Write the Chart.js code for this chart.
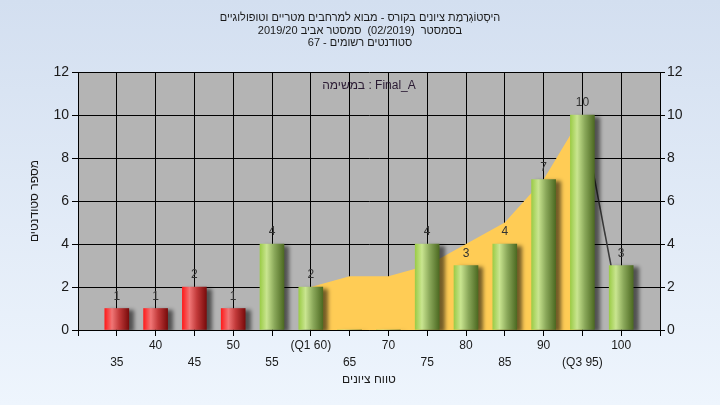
<!DOCTYPE html>
<html>
<head>
<meta charset="utf-8">
<script src="https://cdn.jsdelivr.net/npm/chart.js@4.4.1/dist/chart.umd.min.js"></script>
<style>
html, body { margin: 0; padding: 0; }
body { width: 720px; height: 405px; overflow: hidden; background: linear-gradient(#d3dff0, #eef5fd); }
</style>
</head>
<body>
<canvas id="histChart" dir="rtl" width="720" height="405"></canvas>
<script>
// נתוני ההיסטוגרמה
const grades = [35, 40, 45, 50, 55, 60, 65, 70, 75, 80, 85, 90, 95, 100];
const gradeLabels = ['35', '40', '45', '50', '55', '(Q1 60)', '65', '70', '75', '80', '85', '90', '(Q3 95)', '100'];
const students = [1, 1, 2, 1, 4, 2, 0, 0, 4, 3, 4, 7, 10, 3];
const areaValues = [null, null, null, null, null, 2, 2.5, 2.5, 3, 4, 5, 7, 10, null];
const dropValues = [null, null, null, null, null, null, null, null, null, null, null, null, 10, 0.5];
const passGrade = 55;

const titleLines = [
    'היסְטוֹגְרַמַת ציונים בקורס - מבוא למרחבים מטריים וטופולוגיים',
    'בסמסטר  (02/2019)  סמסטר אביב 2019/20',
    'סטודנטים רשומים - 67'
];
const taskLabel = 'Final_A : במשימה';

const FONT = "'Liberation Sans', Arial, sans-serif";
Chart.defaults.font.family = FONT;
Chart.defaults.color = '#1a1a1a';

function toPoints(values) {
    return grades.map((g, i) => ({ x: g, y: values[i] }));
}

// רקע אפור לאזור הגרף
const plotBackground = {
    id: 'plotBackground',
    beforeDraw(chart) {
        const { ctx, chartArea: a } = chart;
        ctx.save();
        ctx.fillStyle = '#b4b4b4';
        ctx.fillRect(a.left, a.top, a.right - a.left, a.bottom - a.top);
        ctx.restore();
    }
};

// צל לעמודות
const barShadow = {
    id: 'barShadow',
    beforeDatasetDraw(chart, args) {
        if (args.meta.type !== 'bar') return;
        const ctx = chart.ctx;
        ctx.save();
        ctx.shadowColor = 'rgba(0,0,0,0.55)';
        ctx.shadowBlur = 4;
        ctx.shadowOffsetX = 5;
        ctx.shadowOffsetY = 2;
    },
    afterDatasetDraw(chart, args) {
        if (args.meta.type !== 'bar') return;
        chart.ctx.restore();
    }
};

// ערכים מעל העמודות + כיתוב המשימה
const barValues = {
    id: 'barValues',
    afterDatasetsDraw(chart) {
        const ctx = chart.ctx;
        const meta = chart.getDatasetMeta(0);
        ctx.save();
        ctx.font = '12px ' + FONT;
        ctx.fillStyle = '#333';
        ctx.textAlign = 'center';
        ctx.textBaseline = 'middle';
        meta.data.forEach((bar, i) => {
            if (!students[i]) return;
            ctx.fillText(String(students[i]), bar.x, bar.y - 12);
        });
        const a = chart.chartArea;
        ctx.fillStyle = '#2a1a33';
        ctx.fillText(taskLabel, (a.left + a.right) / 2, a.top + 14);
        ctx.restore();
    }
};

function barGradient(context) {
    const chart = context.chart;
    if (context.type !== 'data' || !chart.chartArea) return '#9c4';
    const i = context.dataIndex;
    const cx = chart.scales.x.getPixelForValue(grades[i]);
    const g = chart.ctx.createLinearGradient(cx - 12, 0, cx + 12, 0);
    if (grades[i] < passGrade) {
        g.addColorStop(0, '#ff1c1c');
        g.addColorStop(0.3, '#f07676');
        g.addColorStop(0.6, '#c23a3a');
        g.addColorStop(1, '#7a0c0c');
    } else {
        g.addColorStop(0, '#9ccc48');
        g.addColorStop(0.28, '#c9e590');
        g.addColorStop(0.6, '#8aa85a');
        g.addColorStop(1, '#4d6a22');
    }
    return g;
}

const ctx = document.getElementById('histChart').getContext('2d');
const histChart = new Chart(ctx, {
    type: 'bar',
    data: {
        datasets: [{
            type: 'bar',
            data: toPoints(students),
            backgroundColor: barGradient,
            borderWidth: 0,
            barThickness: 24,
            order: 1
        }, {
            type: 'line',
            data: toPoints(areaValues),
            fill: 'origin',
            backgroundColor: '#ffcc55',
            borderWidth: 0,
            pointRadius: 0,
            tension: 0,
            order: 3
        }, {
            type: 'line',
            data: toPoints(dropValues),
            fill: false,
            borderColor: '#3a3a3a',
            borderWidth: 1.5,
            pointRadius: 0,
            order: 2
        }]
    },
    options: {
        responsive: false,
        animation: false,
        events: [],
        layout: { padding: 0 },
        plugins: {
            legend: { display: false },
            tooltip: { enabled: false },
            title: {
                display: true,
                text: titleLines,
                color: '#1a1a1a',
                font: { size: 11, weight: 'normal', lineHeight: '12.5px' },
                padding: { top: 12, bottom: 22.5 }
            }
        },
        scales: {
            x: {
                type: 'linear',
                offset: false,
                min: 30,
                max: 105,
                afterFit(scale) { scale.height = 75; },
                ticks: {
                    stepSize: 5,
                    autoSkip: false,
                    maxRotation: 0,
                    padding: 1.5,
                    color: '#1a1a1a',
                    font: { size: 12, lineHeight: '17px' },
                    callback(value) {
                        const i = grades.indexOf(value);
                        if (i < 0) return '';
                        return i % 2 === 0 ? ['', gradeLabels[i]] : [gradeLabels[i]];
                    }
                },
                grid: { offset: false, color: '#000', tickLength: 6, lineWidth: 1 },
                border: { color: '#000', width: 1 },
                title: {
                    display: true,
                    text: 'טווח ציונים',
                    color: '#1a1a1a',
                    font: { size: 12 },
                    padding: { top: 0, bottom: 18 }
                }
            },
            y: {
                position: 'left',
                min: 0,
                max: 12,
                afterFit(scale) { scale.width = 78; },
                ticks: { stepSize: 2, padding: 3, color: '#1a1a1a', font: { size: 14 } },
                grid: { color: '#000', tickLength: 6, lineWidth: 1 },
                border: { color: '#000', width: 1 },
                title: {
                    display: true,
                    text: 'מספר סטודנטים',
                    color: '#1a1a1a',
                    font: { size: 12 },
                    padding: { top: 27, bottom: 0 }
                }
            },
            y2: {
                position: 'right',
                min: 0,
                max: 12,
                afterFit(scale) { scale.width = 60; },
                ticks: { stepSize: 2, padding: 2, color: '#1a1a1a', font: { size: 14 } },
                grid: { drawOnChartArea: false, color: '#000', tickLength: 5 },
                border: { color: '#000', width: 1 }
            }
        }
    },
    plugins: [plotBackground, barShadow, barValues]
});
</script>
</body>
</html>
